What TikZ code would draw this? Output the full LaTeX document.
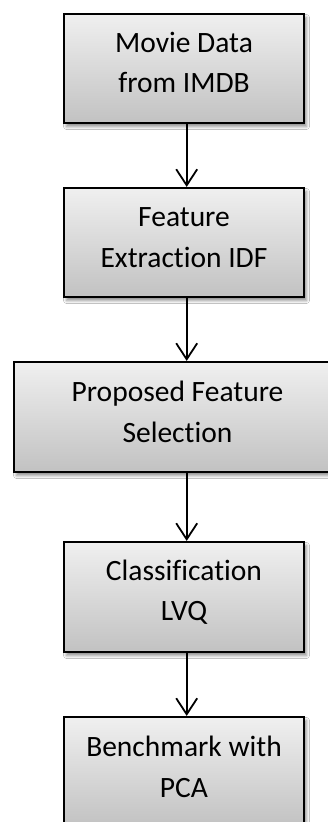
\documentclass[tikz,border=0pt]{standalone}
\usepackage{fontspec}
\setmainfont[Ligatures=NoCommon]{Carlito}
\usetikzlibrary{arrows.meta,shadows.blur}
\begin{document}
\begin{tikzpicture}[x=1pt,y=1pt,
  stepbox/.style={draw=black, line width=2.2pt, top color=black!6, bottom color=black!24,
    minimum height=109pt, minimum width=240pt, inner sep=0pt,
    blur shadow={shadow xshift=2.5pt, shadow yshift=-3.5pt, shadow blur radius=3pt, shadow opacity=45}},
  steptext/.style={font=\fontsize{29.5}{40.5}\selectfont, align=center, inner sep=0pt},
  flow/.style={line width=1.8pt, -{Straight Barb[length=16pt,width=21pt]}}
]
\clip (0,0) rectangle (328,-822);
\fill[white] (0,0) rectangle (328,-822);

% process boxes
\node[stepbox] (b1) at (184,-68.5) {};
\node[stepbox] (b2) at (184,-242.5) {};
\node[stepbox, minimum width=327pt, minimum height=110pt] (b3) at (177.5,-417) {};
\node[stepbox, minimum height=110pt] (b4) at (184,-597) {};
\node[stepbox, minimum height=110pt] (b5) at (184,-772) {};

% box captions
\node[steptext] (t1) at ([yshift=6pt]b1.center) {Movie Data\\from IMDB};
\node[steptext] (t2) at ([yshift=5pt]b2.center) {Feature\\Extraction IDF};
\node[steptext] (t3) at ([yshift=5pt]b3.center) {Proposed Feature\\Selection};
\node[steptext] (t4) at ([yshift=5pt]b4.center) {Classification\\LVQ};
\node[steptext] (t5) at ([yshift=5pt]b5.center) {Benchmark with\\PCA};

% connectors
\coordinate (ax) at (186.7,0);
\draw[flow] (b1.south -| ax) -- (b2.north -| ax);
\draw[flow] (b2.south -| ax) -- (b3.north -| ax);
\draw[flow] (b3.south -| ax) -- (b4.north -| ax);
\draw[flow] (b4.south -| ax) -- (b5.north -| ax);
\end{tikzpicture}
\end{document}
